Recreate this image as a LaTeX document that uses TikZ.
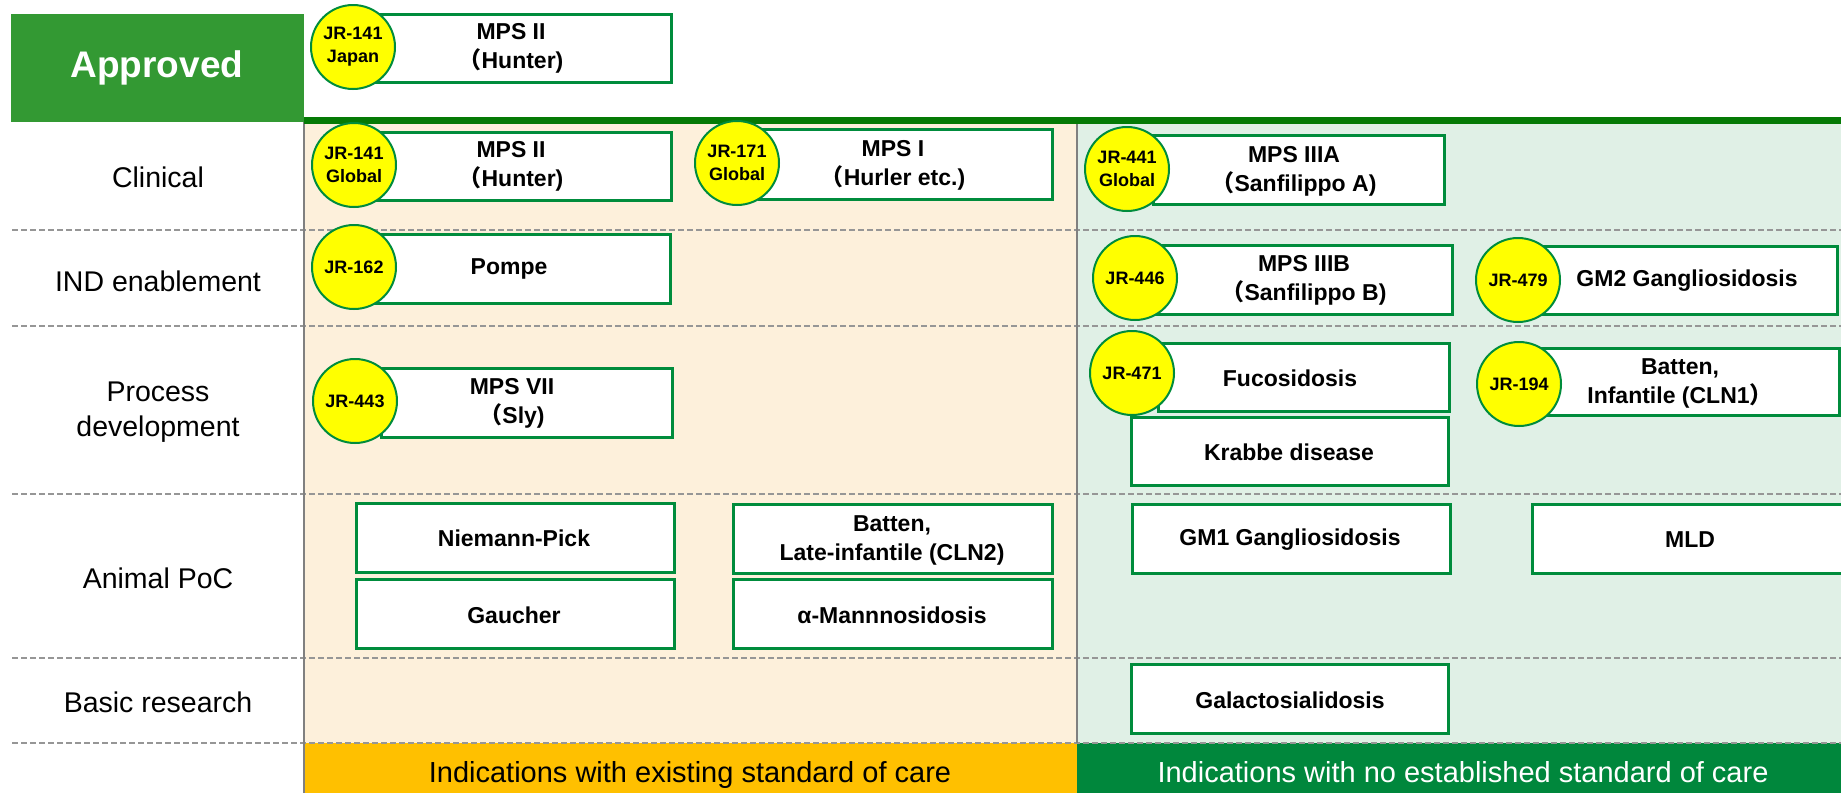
\documentclass[tikz,border=0pt]{standalone}
\usepackage{fontspec}
\setmainfont{Liberation Sans}
\newfontfamily\cjk{Noto Sans CJK JP}
\newcommand{\lp}{{\cjk （}}
\newcommand{\rp}{{\cjk ）}}
\definecolor{boxgreen}{RGB}{0,140,60}
\definecolor{apgreen}{RGB}{51,153,51}
\definecolor{linegreen}{RGB}{5,122,5}
\definecolor{bargreen}{RGB}{0,135,60}
\definecolor{barorange}{RGB}{255,192,0}
\definecolor{bgorange}{RGB}{253,240,219}
\definecolor{bggreen}{RGB}{224,240,230}
\definecolor{dashgray}{RGB}{150,150,150}
\definecolor{vgray}{RGB}{128,128,128}
\definecolor{jryellow}{RGB}{255,255,0}
\begin{document}
\begin{tikzpicture}[x=1pt,y=-1pt,
  dbox/.style={draw=boxgreen, line width=3pt, fill=white, inner sep=0pt, anchor=north west},
  btxt/.style={align=center, inner sep=0pt, font={\fontsize{23}{29}\selectfont\bfseries}},
  jr/.style={circle, draw=boxgreen, line width=2pt, fill=jryellow, minimum size=84pt, inner sep=0pt, align=center, font={\fontsize{18}{23}\selectfont\bfseries}},
  rowlab/.style={align=center, inner sep=0pt, font={\fontsize{28.5}{35}\selectfont}},
  dline/.style={draw=dashgray, line width=2pt, dash pattern=on 6pt off 3pt},
  vline/.style={draw=vgray, line width=2pt},
  bar/.style={anchor=north west, inner sep=0pt, minimum height=50pt},
  bartxt/.style={anchor=base, inner sep=0pt, font={\fontsize{29}{34}\selectfont}}
]
\clip (0,0) rectangle (1841,793);
% backgrounds
\fill[bgorange] (304,124) rectangle (1077,743);
\fill[bggreen] (1077,124) rectangle (1841,743);
% bottom bars
\node[bar, fill=barorange, minimum width=773pt] (barL) at (304,743) {};
\node[bar, fill=bargreen, minimum width=764pt] (barR) at (1077,743) {};
\node[bartxt, text=black] (barLt) at (690,782) {Indications with existing standard of care};
\node[bartxt, text=white] (barRt) at (1463,782) {Indications with no established standard of care};
% dashed separators
\coordinate (d1a) at (12,230); \coordinate (d1b) at (1841,230);
\coordinate (d2a) at (12,326); \coordinate (d2b) at (1841,326);
\coordinate (d3a) at (12,494); \coordinate (d3b) at (1841,494);
\coordinate (d4a) at (12,658); \coordinate (d4b) at (1841,658);
\coordinate (d5a) at (12,743); \coordinate (d5b) at (1841,743);
\draw[dline] (d1a) -- (d1b);
\draw[dline] (d2a) -- (d2b);
\draw[dline] (d3a) -- (d3b);
\draw[dline] (d4a) -- (d4b);
\draw[dline] (d5a) -- (d5b);
% vertical lines
\coordinate (v1a) at (304,122); \coordinate (v1b) at (304,793);
\coordinate (v2a) at (1077,124); \coordinate (v2b) at (1077,743);
\draw[vline] (v1a) -- (v1b);
\draw[vline] (v2a) -- (v2b);
% approved header
\node[fill=apgreen, anchor=north west, minimum width=293pt, minimum height=108pt, inner sep=0pt] (appr) at (11,14) {};
\node[text=white, font={\fontsize{37}{40}\selectfont\bfseries}, inner sep=0pt] (apprt) at (157,68) {Approved};
\fill[linegreen] (304,117) rectangle (1841,124);
% row labels
\node[rowlab] (r1) at (158,177) {Clinical};
\node[rowlab] (r2) at (158,281) {IND enablement};
\node[rowlab] (r3) at (158,412) {Process\\development};
\node[rowlab] (r4) at (158,578) {Animal PoC};
\node[rowlab] (r5) at (158,702) {Basic research};
% boxes
\node[dbox, minimum width=295pt, minimum height=68pt] (b1) at (375,13) {};
\node[dbox, minimum width=298pt, minimum height=68pt] (b2) at (372,131) {};
\node[dbox, minimum width=293pt, minimum height=70pt] (b3) at (758,128) {};
\node[dbox, minimum width=291pt, minimum height=69pt] (b4) at (1152,134) {};
\node[dbox, minimum width=297pt, minimum height=69pt] (b5) at (372,233) {};
\node[dbox, minimum width=296pt, minimum height=69pt] (b6) at (1155,244) {};
\node[dbox, minimum width=305pt, minimum height=68pt] (b7) at (1531,245) {};
\node[dbox, minimum width=291pt, minimum height=69pt] (b8) at (380,367) {};
\node[dbox, minimum width=291pt, minimum height=68pt] (b9) at (1157,342) {};
\node[dbox, minimum width=317pt, minimum height=68pt] (b10) at (1130,416) {};
\node[dbox, minimum width=300pt, minimum height=67pt] (b11) at (1538,347) {};
\node[dbox, minimum width=318pt, minimum height=69pt] (b12) at (355,502) {};
\node[dbox, minimum width=318pt, minimum height=69pt] (b13) at (355,578) {};
\node[dbox, minimum width=319pt, minimum height=69pt] (b14) at (732,503) {};
\node[dbox, minimum width=319pt, minimum height=69pt] (b15) at (732,578) {};
\node[dbox, minimum width=318pt, minimum height=69pt] (b16) at (1131,503) {};
\node[dbox, minimum width=318pt, minimum height=69pt] (b17) at (1531,503) {};
\node[dbox, minimum width=317pt, minimum height=69pt] (b18) at (1130,663) {};
% box texts
\node[btxt] (t1) at (511,48) {MPS II\\\lp Hunter)};
\node[btxt] (t2) at (511,166) {MPS II\\\lp Hunter)};
\node[btxt] (t3) at (893,165) {MPS I\\\lp Hurler etc.)};
\node[btxt] (t4) at (1294,171) {MPS IIIA\\\lp Sanfilippo A)};
\node[btxt] (t5) at (509,269) {Pompe};
\node[btxt] (t6) at (1304,280) {MPS IIIB\\\lp Sanfilippo B)};
\node[btxt] (t7) at (1687,281) {GM2 Gangliosidosis};
\node[btxt] (t8) at (512,403) {MPS VII\\\lp Sly)};
\node[btxt] (t9) at (1290,378) {Fucosidosis};
\node[btxt] (t10) at (1289,452) {Krabbe disease};
\node[btxt] (t11) at (1680,383) {Batten,\\Infantile (CLN1\rp};
\node[btxt] (t12) at (514,538) {Niemann-Pick};
\node[btxt] (t13) at (514,615) {Gaucher};
\node[btxt] (t14) at (892,540) {Batten,\\Late-infantile (CLN2)};
\node[btxt] (t15) at (892,615) {α-Mannnosidosis};
\node[btxt] (t16) at (1290,540) {GM1 Gangliosidosis};
\node[btxt] (t17) at (1690,540) {MLD};
\node[btxt] (t18) at (1290,700) {Galactosialidosis};
% JR circles
\node[jr] (c1) at (353,47) {JR-141\\Japan};
\node[jr] (c2) at (354,165) {JR-141\\Global};
\node[jr] (c3) at (737,163) {JR-171\\Global};
\node[jr] (c4) at (1127,169) {JR-441\\Global};
\node[jr] (c5) at (354,267) {JR-162};
\node[jr] (c6) at (1135,278) {JR-446};
\node[jr] (c7) at (1518,280) {JR-479};
\node[jr] (c8) at (355,401) {JR-443};
\node[jr] (c9) at (1132,373) {JR-471};
\node[jr] (c10) at (1519,384) {JR-194};
\end{tikzpicture}
\end{document}
